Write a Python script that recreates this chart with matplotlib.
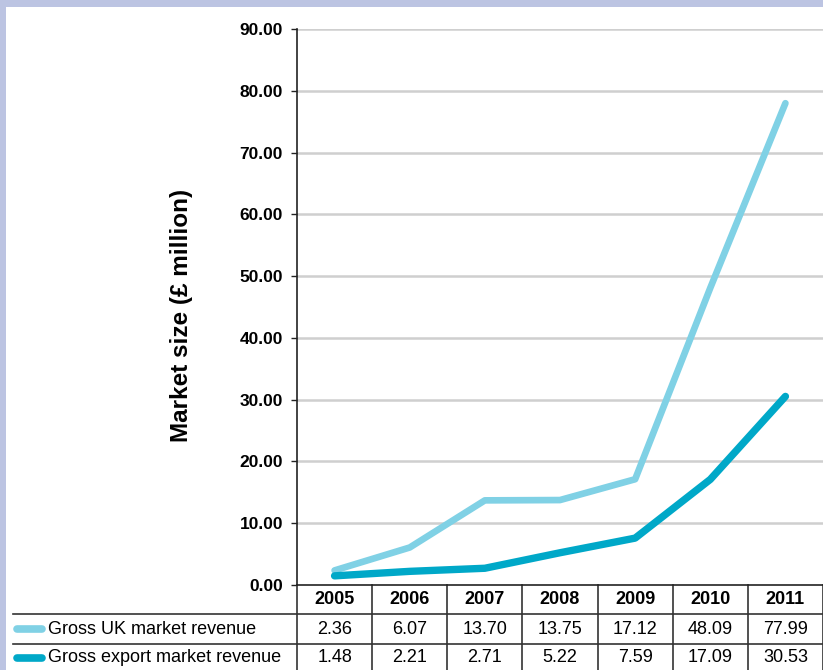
import matplotlib
matplotlib.use("Agg")
import matplotlib.pyplot as plt
from matplotlib.patches import Rectangle
from matplotlib.lines import Line2D
import matplotlib.transforms as mtransforms

years = ["2005", "2006", "2007", "2008", "2009", "2010", "2011"]
uk_revenue = [2.36, 6.07, 13.70, 13.75, 17.12, 48.09, 77.99]
export_revenue = [1.48, 2.21, 2.71, 5.22, 7.59, 17.09, 30.53]
series_names = ["Gross UK market revenue", "Gross export market revenue"]
y_ticks = [0, 10, 20, 30, 40, 50, 60, 70, 80, 90]

light_blue = "#80d1e5"
dark_blue = "#00a8c8"
lavender = "#bcc4e2"
font = "Liberation Sans"

W, H = 823, 670
fig = plt.figure(figsize=(W / 100, H / 100), dpi=100, facecolor=lavender)

# white panel inside the lavender frame
fig.add_artist(Rectangle((6 / W, 0), 1 - 6 / W, (H - 7) / H,
                         transform=fig.transFigure, facecolor="white",
                         edgecolor="none", zorder=-10))

ax_left, ax_top, ax_bottom = 297, 29, 585
ax = fig.add_axes([ax_left / W, (H - ax_bottom) / H, 1 - ax_left / W,
                   (ax_bottom - ax_top) / H])
ax.set_facecolor("white")

x = list(range(len(years)))
ax.plot(x, uk_revenue, color=light_blue, lw=4.8, solid_capstyle="round",
        solid_joinstyle="round", zorder=3)
ax.plot(x, export_revenue, color=dark_blue, lw=5.3, solid_capstyle="round",
        solid_joinstyle="round", zorder=4)

ax.set_xlim(-0.5, len(years) - 0.5)
ax.set_ylim(0, 90)
ax.set_yticks(y_ticks)
ax.set_yticklabels([f"{v:.2f}" for v in y_ticks], fontsize=12.5,
                   fontweight="bold", family=font)
ax.set_xticks([])
for g in y_ticks[1:]:
    ax.axhline(g, color="#cfcfcf", lw=1.8, zorder=1)
ax.tick_params(axis="y", length=4, width=1, color="#222222", pad=6)
for s in ["top", "right"]:
    ax.spines[s].set_visible(False)
ax.spines["left"].set_color("#222222")
ax.spines["left"].set_linewidth(1.2)
ax.spines["bottom"].set_color("#222222")
ax.spines["bottom"].set_linewidth(1.2)

ax.set_ylabel("Market size (£ million)", fontsize=17.5, fontweight="bold",
              family=font)
ax.yaxis.set_label_coords(-0.197, 0.484)

# data table below the axes
ah = ax_bottom - ax_top
row_edges = [0, -29 / ah, -59 / ah, -86 / ah]
trans = mtransforms.blended_transform_factory(ax.transData, ax.transAxes)
line_kw = dict(color="#333333", lw=1.2, clip_on=False)

for i in range(len(years) + 1):
    ax.add_line(Line2D([i - 0.5, i - 0.5], [0, row_edges[-1]],
                       transform=trans, **line_kw))

left_frac = (13 - ax_left) / (W - ax_left)
for r in row_edges[1:3]:
    ax.add_line(Line2D([left_frac, 1], [r, r], transform=ax.transAxes,
                       **line_kw))

mid = lambda k: (row_edges[k] + row_edges[k + 1]) / 2
for i, yr in enumerate(years):
    ax.text(i, mid(0), yr, transform=trans, ha="center", va="center",
            fontsize=13, fontweight="bold", family=font)
    ax.text(i, mid(1), f"{uk_revenue[i]:.2f}", transform=trans,
            ha="center", va="center", fontsize=13, family=font)
    ax.text(i, mid(2), f"{export_revenue[i]:.2f}", transform=trans,
            ha="center", va="center", fontsize=13, family=font)

sw0 = (17 - ax_left) / (W - ax_left)
sw1 = (42 - ax_left) / (W - ax_left)
txt_x = (48 - ax_left) / (W - ax_left)
for k, (name, col) in enumerate(zip(series_names, [light_blue, dark_blue])):
    ax.add_line(Line2D([sw0, sw1], [mid(k + 1), mid(k + 1)],
                       transform=ax.transAxes, color=col, lw=5.5,
                       solid_capstyle="round", clip_on=False))
    ax.text(txt_x, mid(k + 1), name, transform=ax.transAxes, ha="left",
            va="center", fontsize=13, family=font)

fig.savefig("out.png", dpi=100, facecolor=fig.get_facecolor())
